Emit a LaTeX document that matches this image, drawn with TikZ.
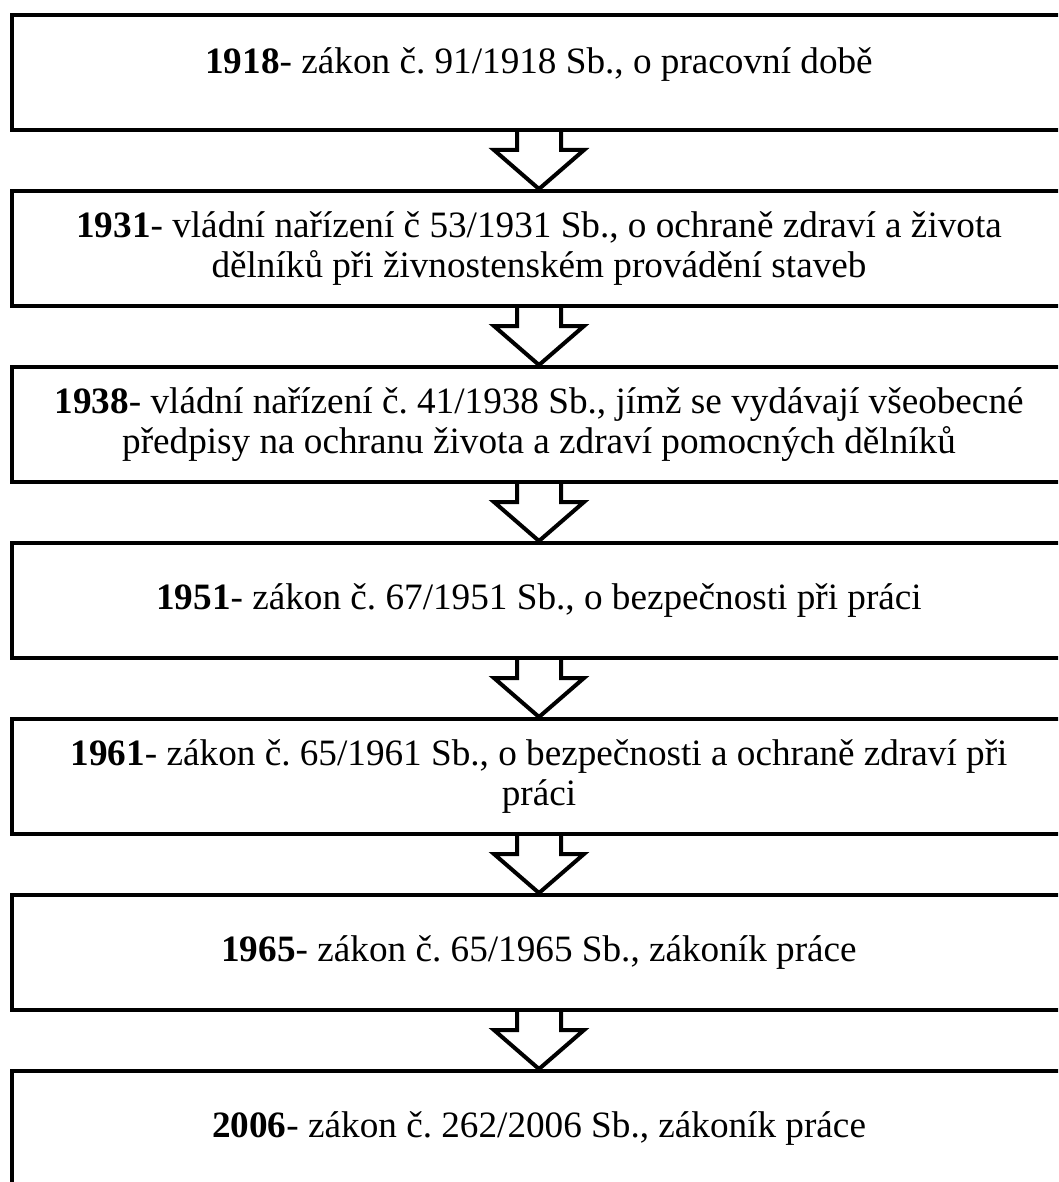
\documentclass[tikz,border=0pt]{standalone}
\usepackage{fontspec}
\setmainfont{Liberation Serif}
\usetikzlibrary{calc}
\frenchspacing

\tikzset{
  lawbox/.style={draw, line width=4pt, inner sep=0pt, minimum width=1054pt,
    minimum height=115pt, align=center, font=\fontsize{37.2}{40}\selectfont},
  downarrow/.style={draw, line width=4pt}
}

\begin{document}
\begin{tikzpicture}[x=1pt, y=-1pt]
\useasboundingbox (0, 0) rectangle (1058, 1182);
\clip (0, 0) rectangle (1058, 1182);

\node[lawbox] (b1) at (539, 72.5) {\raisebox{8pt}[\height][\depth]{\textbf{1918}- zákon č. 91/1918 Sb., o pracovní době}};
\node[lawbox] (b2) at (539, 248.5) {\textbf{1931}- vládní nařízení č 53/1931 Sb., o ochraně zdraví a života\\ dělníků při živnostenském provádění staveb};
\node[lawbox] (b3) at (539, 424.5) {\textbf{1938}- vládní nařízení č. 41/1938 Sb., jímž se vydávají všeobecné\\ předpisy na ochranu života a zdraví pomocných dělníků};
\node[lawbox] (b4) at (539, 600.5) {\textbf{1951}- zákon č. 67/1951 Sb., o bezpečnosti při práci};
\node[lawbox] (b5) at (539, 776.5) {\textbf{1961}- zákon č. 65/1961 Sb., o bezpečnosti a ochraně zdraví při\\ práci};
\node[lawbox] (b6) at (539, 952.5) {\textbf{1965}- zákon č. 65/1965 Sb., zákoník práce};
\node[lawbox] (b7) at (539, 1128.5) {\textbf{2006}- zákon č. 262/2006 Sb., zákoník práce};

% hollow arrows between the boxes
\foreach \i [evaluate=\i as \j using int(\i+1)] in {1,...,6} {
    \draw[downarrow] ($(b\i.south)+(-22,0)$) -- ++(0,18) -- ++(-23,0)
        -- (b\j.north) -- ($(b\i.south)+(45,18)$) -- ++(-23,0) -- ++(0,-18);
}
\end{tikzpicture}
\end{document}
